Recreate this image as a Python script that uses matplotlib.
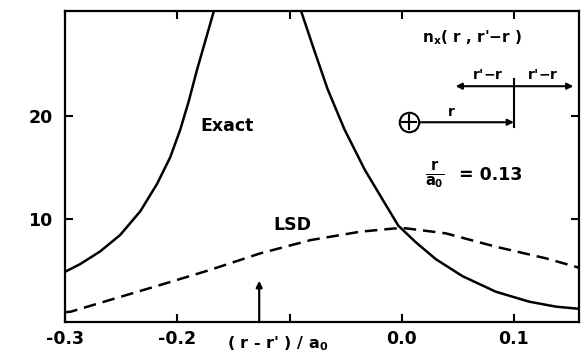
import matplotlib
matplotlib.use("Agg")
import matplotlib.pyplot as plt

plt.rcParams["font.family"] = ["DejaVu Sans"]
plt.rcParams["font.weight"] = "bold"
plt.rcParams["mathtext.fontset"] = "custom"
plt.rcParams["mathtext.rm"] = "DejaVu Sans:bold"
plt.rcParams["mathtext.it"] = "DejaVu Sans:bold"
plt.rcParams["mathtext.bf"] = "DejaVu Sans:bold"
plt.rcParams["lines.scale_dashes"] = False

# Exact exchange hole, left of the cusp
exact_left_x = [-0.3000, -0.2866, -0.2688, -0.2509, -0.2330, -0.2181, -0.2063,
                -0.1973, -0.1899, -0.1824, -0.1745, -0.1676]
exact_left_y = [4.88, 5.62, 6.85, 8.45, 10.75, 13.4, 16.0, 18.7, 21.4, 24.5,
                27.5, 30.13]

# Exact exchange hole, right of the cusp
exact_right_x = [-0.090, -0.078, -0.066, -0.051, -0.033, -0.016, -0.003, 0.0125,
                 0.0304, 0.0542, 0.0839, 0.1137, 0.1375, 0.160]
exact_right_y = [30.3, 26.4, 22.6, 18.7, 14.8, 11.7, 9.35, 7.75, 6.10, 4.45, 2.94,
                 1.97, 1.49, 1.26]

# Local spin density approximation
lsd_x = [-0.300, -0.295, -0.260, -0.215, -0.171, -0.126, -0.081, -0.037, -0.007,
         0.0036, 0.0393, 0.0839, 0.1286, 0.160]
lsd_y = [0.95, 1.0, 2.14, 3.6, 5.05, 6.67, 7.96, 8.77, 9.08, 9.10, 8.61, 7.31,
         6.18, 5.21]

x_ticks = [-0.3, -0.2, -0.1, 0.0, 0.1]
x_tick_labels = ["-0.3", "-0.2", "", "0.0", "0.1"]
y_ticks = [10, 20]
y_tick_labels = ["10", "20"]

nucleus_x = -0.127     # r' = 0 position
nucleus_arrow_top = 4.0
ratio_text = "= 0.13"

fig = plt.figure(figsize=(5.81, 3.56), dpi=100)
ax = fig.add_axes([0.112, 0.0955, 0.8846, 0.8735])

lw = 1.8
ax.plot(exact_left_x, exact_left_y, color="black", lw=lw, solid_capstyle="butt")
ax.plot(exact_right_x, exact_right_y, color="black", lw=lw, solid_capstyle="butt")
ax.plot(lsd_x, lsd_y, color="black", lw=lw, dashes=(9, 5))

ax.set_xlim(-0.3, 0.158)
ax.set_ylim(0, 30.2)

ax.set_xticks(x_ticks)
ax.set_xticklabels(x_tick_labels)
ax.set_yticks(y_ticks)
ax.set_yticklabels(y_tick_labels)
ax.tick_params(direction="in", length=6, width=1.5, labelsize=12.5,
               top=True, right=True)
ax.tick_params(axis="y", pad=9)
ax.tick_params(axis="x", pad=6)
for s in ax.spines.values():
    s.set_linewidth(1.6)

# axis label, sits on the tick-label row
ax.text(0.414, -0.07, "( r - r' ) / a$_0$", transform=ax.transAxes,
        ha="center", va="center", fontsize=11.5, fontweight="bold")

# curve labels
ax.text(-0.156, 19.0, "Exact", ha="center", va="center", fontsize=12.5, fontweight="bold")
ax.text(-0.097, 9.4, "LSD", ha="center", va="center", fontsize=12.5, fontweight="bold")

# arrow marking the nucleus position
ax.annotate("", xy=(nucleus_x, nucleus_arrow_top), xytext=(nucleus_x, 0),
            arrowprops=dict(arrowstyle="-|>", color="black", lw=1.6,
                            mutation_scale=9, shrinkA=0, shrinkB=0))

# geometry sketch
ax.text(0.063, 27.6, "n$_x$( r , r'$-$r )", ha="center", va="center", fontsize=11)
ax.plot([0.00625], [19.4], marker="o", ms=14, mfc="white", mec="black", mew=1.5)
ax.plot([0.00625], [19.4], marker="+", ms=11, mec="black", mew=1.5)
ax.annotate("", xy=(0.1, 19.4), xytext=(0.0155, 19.4),
            arrowprops=dict(arrowstyle="-|>", color="black", lw=1.5,
                            mutation_scale=9, shrinkA=0, shrinkB=0))
ax.plot([0.1, 0.1], [18.9, 23.6], color="black", lw=1.5)
ax.annotate("", xy=(0.048, 22.9), xytext=(0.1, 22.9),
            arrowprops=dict(arrowstyle="-|>", color="black", lw=1.5,
                            mutation_scale=9, shrinkA=0, shrinkB=0))
ax.annotate("", xy=(0.153, 22.9), xytext=(0.1, 22.9),
            arrowprops=dict(arrowstyle="-|>", color="black", lw=1.5,
                            mutation_scale=9, shrinkA=0, shrinkB=0))
ax.text(0.0767, 24.0, "r'$-$r", ha="center", va="center", fontsize=10)
ax.text(0.126, 24.0, "r'$-$r", ha="center", va="center", fontsize=10)
ax.text(0.044, 20.4, "r", ha="center", va="center", fontsize=10)

ax.text(0.0295, 14.2, r"$\frac{r}{a_0}$", ha="center", va="center", fontsize=15)
ax.text(0.051, 14.3, ratio_text, ha="left", va="center", fontsize=12.5, fontweight="bold")

fig.savefig("out.png", dpi=100)
